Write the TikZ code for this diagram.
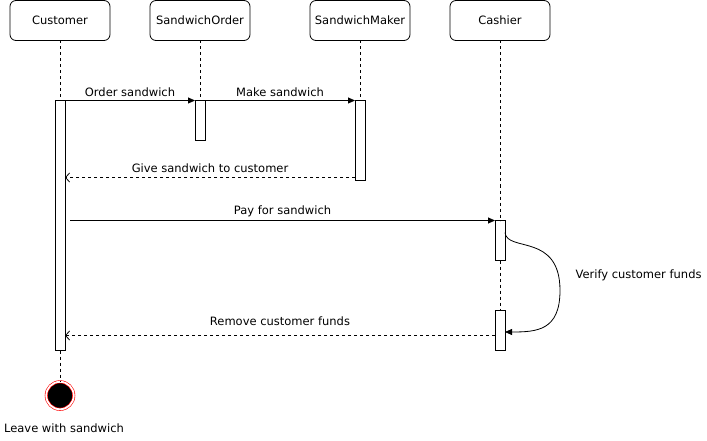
\documentclass[tikz,border=0pt]{standalone}
\usepackage{fontspec}
\setmainfont{DejaVu Sans}
\usetikzlibrary{positioning, arrows.meta}
\tikzstyle{head} = [rectangle, rounded corners=6pt, minimum width=100pt, minimum height=40pt, outer sep=0pt, text centered, draw=black, line width=0.8pt]
\tikzstyle{bar} = [rectangle, minimum width=10pt, inner sep=0pt, outer sep=0pt, draw=black, fill=white, line width=0.8pt]
\tikzstyle{lifeline} = [line width=0.8pt, dash pattern=on 3pt off 3pt]
\tikzstyle{msg} = [line width=0.8pt, -{Triangle[length=7pt, width=6pt]}]
\tikzstyle{reply} = [line width=0.8pt, dash pattern=on 3pt off 3pt, -{Straight Barb[length=4pt, width=9pt]}]

\begin{document}
\begin{tikzpicture}[font=\fontsize{11.5}{13}\selectfont]
    \useasboundingbox (0,0) rectangle (707pt,-441pt);

    %Main Nodes
    \node (cust) [head] at (60pt,-20.5pt) {Customer};
    \node (order) [head, right=40pt of cust] {SandwichOrder};
    \node (maker) [head, right=60pt of order] {SandwichMaker};
    \node (cashier) [head, right=40pt of maker] {Cashier};

    %Activation bars
    \node (custAct) [bar, minimum height=250pt, below=60pt of cust] {};
    \node (orderAct) [bar, minimum height=40pt, below=60pt of order] {};
    \node (makerAct) [bar, minimum height=80pt, below=60pt of maker] {};
    \node (cashAct1) [bar, minimum height=40pt, below=180pt of cashier] {};
    \node (cashAct2) [bar, minimum height=40pt, below=50pt of cashAct1] {};

    %End state
    \node (endState) [circle, draw=red, fill=black, double=white, double distance=1.8pt, line width=0.6pt, minimum size=27.5pt, inner sep=0pt, below=31pt of custAct] {};
    \node (leaveLbl) [below=11pt of endState, xshift=4pt] {Leave with sandwich};
    \coordinate (turn) at ([xshift=55pt, yshift=-30pt]cashAct1.south east);

    %Lifelines
    \draw [lifeline] (cust) -- (custAct);
    \draw [lifeline] (custAct) -- (endState);
    \draw [lifeline] (order) -- (orderAct);
    \draw [lifeline] (maker) -- (makerAct);
    \draw [lifeline] (cashier) -- (cashAct1);
    \draw [lifeline] (cashAct1) -- (cashAct2);

    %Arrows
    \draw [msg] (custAct.north east) -- (orderAct.north west) node [midway, above] {Order sandwich};
    \draw [msg] (orderAct.north east) -- (makerAct.north west) node [midway, above] {Make sandwich};
    \draw [reply] ([yshift=3pt]makerAct.south west) -- ([yshift=3pt]makerAct.south west -| custAct.east) node [midway, above=1pt] {Give sandwich to customer};
    \draw [msg] ([xshift=5pt]custAct.east |- cashAct1.north) -- (cashAct1.north west) node [midway, above] {Pay for sandwich};
    \draw [msg] ([yshift=-12pt]cashAct1.north east) .. controls +(2pt,-20pt) and +(0pt,58pt) .. (turn) .. controls +(0pt,-40pt) and +(32pt,0pt) .. ([yshift=18.5pt]cashAct2.south east);
    \node (verifyLbl) [anchor=west] at ([xshift=12pt, yshift=15pt]turn) {Verify customer funds};
    \draw [reply] ([yshift=15pt]cashAct2.south west) -- ([yshift=15pt]cashAct2.south west -| custAct.east) node [midway, above=6pt] {Remove customer funds};

\end{tikzpicture}
\end{document}
